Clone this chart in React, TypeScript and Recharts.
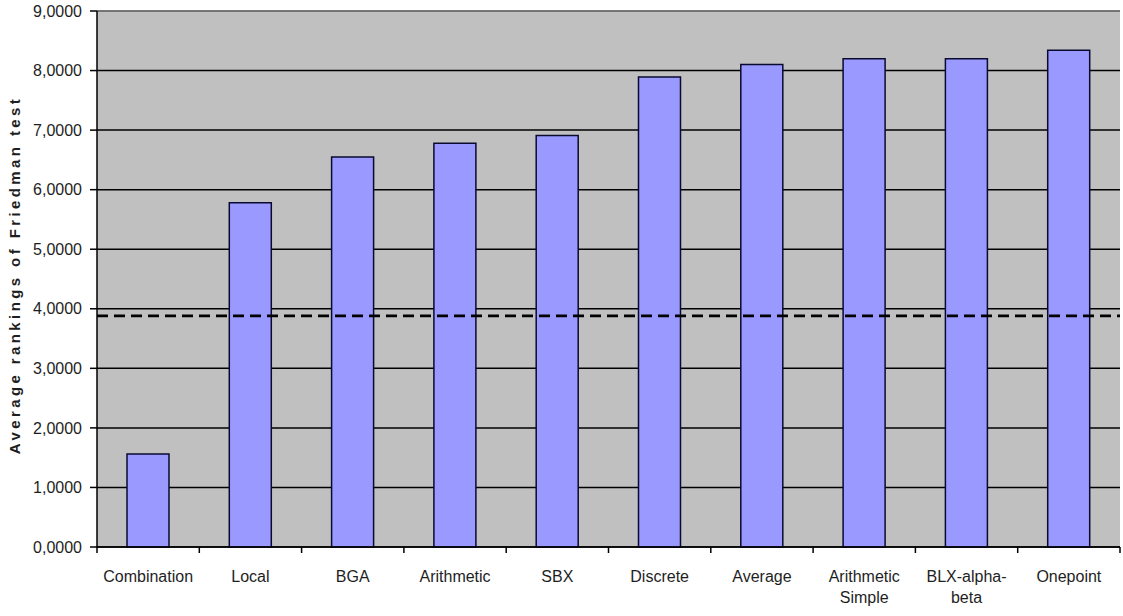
import React from 'react';
import { BarChart, Bar, XAxis, YAxis, CartesianGrid, ReferenceLine } from 'recharts';

// Crossover operators and their average Friedman rankings
const categories = [
  'Combination',
  'Local',
  'BGA',
  'Arithmetic',
  'SBX',
  'Discrete',
  'Average',
  'Arithmetic Simple',
  'BLX-alpha-beta',
  'Onepoint',
];
const rankings = [1.56, 5.78, 6.55, 6.78, 6.91, 7.89, 8.1, 8.2, 8.2, 8.34];
const criticalValue = 3.88;
const yTicks = [0, 1, 2, 3, 4, 5, 6, 7, 8, 9];

const data = categories.map((name, i) => ({ name, value: rankings[i] }));

const FONT = '"Liberation Sans", Arial, sans-serif';
const TEXT = '#1e1e1e';
const PLOT_LEFT = 97;
const PLOT_RIGHT = 1120;
const BAND = (PLOT_RIGHT - PLOT_LEFT) / categories.length;

// Break a label into lines of at most `max` characters, splitting at spaces and after hyphens
function wrap(label: string, max = 10): string[] {
  const parts = label.match(/[^\s-]+-?/g) || [label];
  const lines: string[] = [];
  let cur = '';
  for (const p of parts) {
    const joiner = cur && !cur.endsWith('-') ? ' ' : '';
    if (cur && (cur + joiner + p).length > max) {
      lines.push(cur);
      cur = p;
    } else {
      cur = cur + joiner + p;
    }
  }
  if (cur) lines.push(cur);
  return lines;
}

// Category label centred under its bar, with tick marks on the band edges
const CategoryTick = (props: any) => {
  const { x, y, payload, index } = props;
  const lines = wrap(String(payload.value));
  const axisY = y;
  const left = x - BAND / 2;
  const right = x + BAND / 2;
  return (
    <g>
      <line x1={left} y1={axisY} x2={left} y2={axisY + 6} stroke="#000" strokeWidth={1.5} />
      {index === categories.length - 1 && (
        <line x1={right} y1={axisY} x2={right} y2={axisY + 6} stroke="#000" strokeWidth={1.5} />
      )}
      <text x={x} y={axisY} textAnchor="middle" fontFamily={FONT} fontSize={16} fill={TEXT}>
        {lines.map((l, i) => (
          <tspan key={i} x={x} dy={i === 0 ? 35 : 21}>
            {l}
          </tspan>
        ))}
      </text>
    </g>
  );
};

export default function App() {
  return (
    <div style={{ position: 'absolute', left: 0, top: 0, background: '#fff' }}>
      <BarChart
        width={1123}
        height={616}
        data={data}
        margin={{ top: 11, right: 1123 - PLOT_RIGHT, bottom: 0, left: 0 }}
        barSize={42}
      >
        <CartesianGrid vertical={false} fill="#c0c0c0" stroke="#000" strokeWidth={1.5} />
        <XAxis
          dataKey="name"
          interval={0}
          tickLine={false}
          tickSize={0}
          tickMargin={0}
          axisLine={{ stroke: '#000', strokeWidth: 1.5 }}
          tick={<CategoryTick />}
          height={69}
        />
        <YAxis
          width={PLOT_LEFT}
          domain={[0, 9]}
          ticks={yTicks}
          interval={0}
          tickFormatter={(v: number) => v.toFixed(4).replace('.', ',')}
          tick={{ fontFamily: FONT, fontSize: 16, fill: TEXT }}
          tickLine={{ stroke: '#000', strokeWidth: 1.5 }}
          tickSize={7}
          tickMargin={8}
          axisLine={{ stroke: '#000', strokeWidth: 1.5 }}
          label={{
            value: 'Average rankings of Friedman test',
            angle: -90,
            position: 'insideLeft',
            offset: 0,
            dx: 15,
            dy: -4,
            style: {
              fontFamily: FONT,
              fontSize: 15,
              fontWeight: 'bold',
              letterSpacing: 3.4,
              fill: TEXT,
              textAnchor: 'middle',
            },
          }}
        />
        <ReferenceLine y={9} stroke="#8a8a8a" strokeWidth={1.5} />
        <Bar
          dataKey="value"
          fill="#9999ff"
          stroke="#0a0a30"
          strokeWidth={1.5}
          isAnimationActive={false}
        />
        <ReferenceLine
          y={criticalValue}
          stroke="#000"
          strokeWidth={2.8}
          strokeDasharray="11 6"
        />
      </BarChart>
    </div>
  );
}
